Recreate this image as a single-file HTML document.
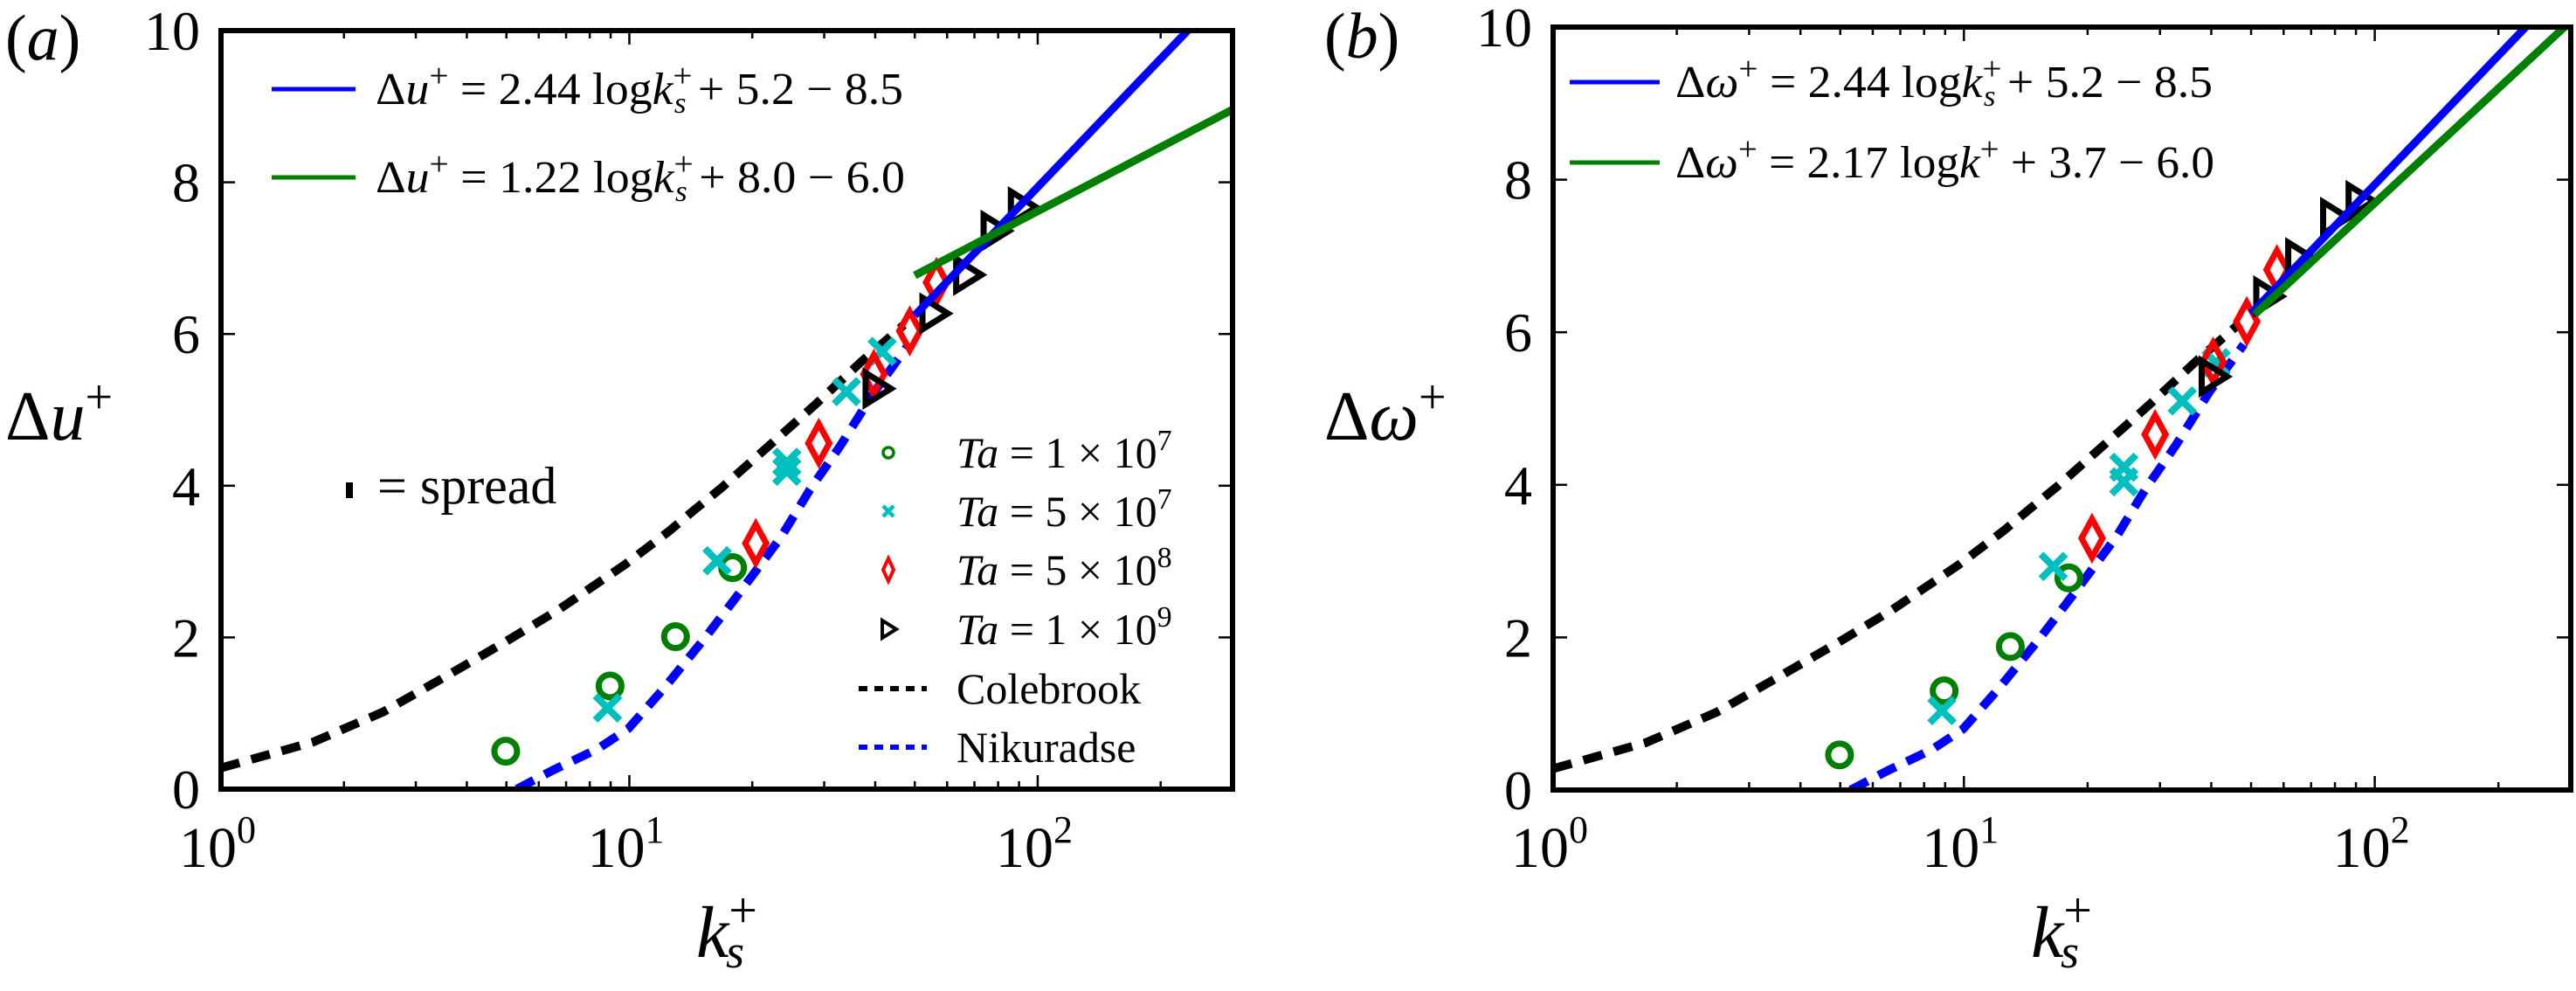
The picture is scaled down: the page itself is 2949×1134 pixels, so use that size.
<!DOCTYPE html>
<html><head><meta charset="utf-8"><style>
html,body{margin:0;padding:0;background:#fff;}
svg, svg text{font-family:"Liberation Serif","DejaVu Serif",serif;}
</style></head><body>
<svg id="fig" width="2949" height="1129" viewBox="0 0 2949 1129" xmlns="http://www.w3.org/2000/svg" font-family="Liberation Serif, DejaVu Serif, serif"></svg>
<script>
// ---- data ----
const colebrookK = [1, 1.68, 2.5, 3.56, 5, 6.68, 9.7, 12.5, 14.5, 16.8, 24.7, 28.4, 36.9, 47];
const colebrookY = [0.28, 0.62, 1.02, 1.49, 1.95, 2.36, 2.95, 3.40, 3.69, 3.97, 4.77, 5.06, 5.63, 6.12];
const nikK = [5.3, 6.5, 8.36, 9.95, 12.2, 15.3, 18.5, 23.5, 27.7, 32.8, 39.6, 48];
const nikY = [0.0, 0.25, 0.53, 0.80, 1.34, 1.99, 2.57, 3.32, 3.95, 4.52, 5.22, 5.84];
// panel a markers
const aCircK = [4.98, 8.97, 12.97, 17.9];
const aCircY = [0.50, 1.36, 2.01, 2.92];
const aCrossK = [8.84, 16.4, 24.3, 24.3, 34.0, 41.6];
const aCrossY = [1.07, 3.01, 4.31, 4.19, 5.24, 5.77];
const aDiaK = [20.4, 29.1, 39.7, 48.6, 56.5];
const aDiaY = [3.24, 4.56, 5.47, 6.04, 6.68];
const aTriK = [40.2, 55.4, 67.0, 78.2, 91.2];
const aTriY = [5.28, 6.27, 6.78, 7.36, 7.67];
// panel b markers
const bCircK = [4.98, 8.95, 12.97, 18.0];
const bCircY = [0.46, 1.30, 1.88, 2.78];
const bCrossK = [8.84, 16.5, 24.5, 24.5, 34.0, 41.1];
const bCrossY = [1.04, 2.93, 4.23, 4.04, 5.10, 5.60];
const bDiaK = [20.5, 29.2, 40.4, 48.8, 57.8];
const bDiaY = [3.30, 4.66, 5.61, 6.14, 6.82];
const bTriK = [40.2, 54.6, 65.3, 79.4, 91.6];
const bTriY = [5.42, 6.47, 6.97, 7.50, 7.72];
// fit lines: y = slope*ln(k) + c, drawn from kStart
const aBlueFit = [2.44, 5.2 - 8.5, 50];
const aGreenFit = [1.22, 8.0 - 6.0, 50];
const bBlueFit = [2.44, 5.2 - 8.5, 50];
const bGreenFit = [2.17, 3.7 - 6.0, 51];
const yTicks = [0, 2, 4, 6, 8, 10];
const xDecades = [0, 1, 2];

const NS = "http://www.w3.org/2000/svg";
const svg = document.getElementById('fig');
function el(tag, attrs, parent) {
  const e = document.createElementNS(NS, tag);
  for (const k in attrs) e.setAttribute(k, attrs[k]);
  (parent || svg).appendChild(e);
  return e;
}

function panel(P) {
  const g = el('g', {});
  
  
  const L = P.L, R = P.R, T = P.T, B = P.B;
  const lxmax = Math.log10(300);
  const X = k => L + (Math.log10(k) / lxmax) * (R - L);
  const Y = v => B - (v / 10) * (B - T);
  const defs = el('defs', {}, g);
  const cp = el('clipPath', {id: 'clip' + P.id}, defs);
  el('rect', {x: L, y: T, width: R - L, height: B - T}, cp);
  const plot = el('g', {'clip-path': 'url(#clip' + P.id + ')'}, g);
  
  

  const tk = el('g', {stroke: '#000', 'stroke-width': 2.5}, g);
  
  
  for (let d = 0; d <= 2; d++) {
    for (let m = 1; m <= 9; m++) {
      const k = m * Math.pow(10, d);
      if (k > 300) break;
      const x = X(k), len = m === 1 ? 16 : 9;
      el('line', {x1: x, x2: x, y1: B, y2: B - len}, tk);
      el('line', {x1: x, x2: x, y1: T, y2: T + len}, tk);
    }
  }
  yTicks.forEach(v => {
    el('line', {x1: L, x2: L + 16, y1: Y(v), y2: Y(v)}, tk);
    el('line', {x1: R, x2: R - 16, y1: Y(v), y2: Y(v)}, tk);
  });
  yTicks.forEach(v => {
    const t = el('text', {x: L - 24, y: Y(v) + 22, 'font-size': 64, 'text-anchor': 'end'}, g);
    t.textContent = v;
    
    
  });
  xDecades.forEach(d => {
    const t = el('text', {x: X(Math.pow(10, d)) - 4, y: 992, 'font-size': 66, 'text-anchor': 'middle'}, g);
    t.innerHTML = '10<tspan dy="-28" font-size="44">' + d + '</tspan>';
    
    
  });

  function curve(ks, ys, color, name) {
    const pts = ks.map((k, i) => X(k).toFixed(1) + ',' + Y(ys[i]).toFixed(1)).join(' ');
    const p = el('polyline', {points: pts, fill: 'none', stroke: color, 'stroke-width': 10, 'stroke-dasharray': '22 14', 'stroke-linejoin': 'round'}, plot);
    
    
  }
  curve(colebrookK, colebrookY, '#000', 'colebrook-curve');
  curve(nikK, nikY, '#0000ff', 'nikuradse-curve');

  function circ(ks, ys) {
    ks.forEach((k, i) => {
      const c = el('circle', {cx: X(k), cy: Y(ys[i]), r: 13, fill: 'none', stroke: '#007f00', 'stroke-width': 7}, plot);
      
      
    });
  }
  function cross(ks, ys) {
    ks.forEach((k, i) => {
      const x = X(k), y = Y(ys[i]), s = 14;
      const c = el('path', {d: `M${x-s},${y-s}L${x+s},${y+s}M${x-s},${y+s}L${x+s},${y-s}`, stroke: '#00bfbf', 'stroke-width': 8, fill: 'none'}, plot);
      
      
    });
  }
  function dia(ks, ys) {
    ks.forEach((k, i) => {
      const x = X(k), y = Y(ys[i]);
      const c = el('path', {d: `M${x},${y-22}L${x+12},${y}L${x},${y+22}L${x-12},${y}Z`, stroke: '#ff0000', 'stroke-width': 7, fill: 'none'}, plot);
      
      
    });
  }
  function tri(ks, ys) {
    ks.forEach((k, i) => {
      const x = X(k), y = Y(ys[i]);
      const c = el('path', {d: `M${x-12},${y-18}L${x+17},${y}L${x-12},${y+18}Z`, stroke: '#000', 'stroke-width': 7, fill: 'none'}, plot);
      
      
    });
  }
  circ(P.circK, P.circY); cross(P.crossK, P.crossY); dia(P.diaK, P.diaY); tri(P.triK, P.triY);

  function fit(f, color, name) {
    const k0 = f[2], k1 = 300;
    const p = el('line', {x1: X(k0), y1: Y(f[0] * Math.log(k0) + f[1]), x2: X(k1), y2: Y(f[0] * Math.log(k1) + f[1]), stroke: color, 'stroke-width': 9}, plot);
    
    
  }
  fit(P.blueFit, '#0000ff', 'fit-line-blue');
  fit(P.greenFit, '#007f00', 'fit-line-green');

  const fr = el('rect', {x: L, y: T, width: R - L, height: B - T, fill: 'none', stroke: '#000', 'stroke-width': 6}, g);
  
  

  P.fitLegend.forEach((lg, i) => {
    const ln = el('line', {x1: lg.x1, x2: lg.x2, y1: lg.y, y2: lg.y, stroke: lg.color, 'stroke-width': 5}, g);
    
    
    const t = el('text', {x: lg.tx, y: lg.y + 17, 'font-size': 52, textLength: lg.tw, lengthAdjust: 'spacingAndGlyphs'}, g);
    t.innerHTML = lg.html;
    
    
  });
  return {X, Y, g};
}

const sup = s => `<tspan dy="-20" font-size="38">${s}</tspan>`;
const ksHtml = `<tspan font-style="italic">k</tspan><tspan dy="-20" font-size="38">+</tspan><tspan dx="-20" dy="30" font-size="34" font-style="italic">s</tspan><tspan dy="-10"> </tspan>`;

panel({
  id: 'a', name: 'panel-a', L: 253, R: 1411, T: 35, B: 903,
  circK: aCircK, circY: aCircY, crossK: aCrossK, crossY: aCrossY, diaK: aDiaK, diaY: aDiaY, triK: aTriK, triY: aTriY,
  blueFit: aBlueFit, greenFit: aGreenFit,
  fitLegend: [
    {x1: 311, x2: 407, y: 102, color: '#0000ff', tx: 430, tw: 604,
     html: `Δ<tspan font-style="italic">u</tspan>${sup('+')}<tspan dy="20"> = 2.44 log</tspan>${ksHtml}+ 5.2 − 8.5`},
    {x1: 311, x2: 407, y: 203, color: '#007f00', tx: 430, tw: 606,
     html: `Δ<tspan font-style="italic">u</tspan>${sup('+')}<tspan dy="20"> = 1.22 log</tspan>${ksHtml}+ 8.0 − 6.0`}
  ]
});
panel({
  id: 'b', name: 'panel-b', L: 1778, R: 2943, T: 31, B: 904,
  circK: bCircK, circY: bCircY, crossK: bCrossK, crossY: bCrossY, diaK: bDiaK, diaY: bDiaY, triK: bTriK, triY: bTriY,
  blueFit: bBlueFit, greenFit: bGreenFit,
  fitLegend: [
    {x1: 1797, x2: 1900, y: 94, color: '#0000ff', tx: 1918, tw: 615,
     html: `Δ<tspan font-style="italic">ω</tspan>${sup('+')}<tspan dy="20"> = 2.44 log</tspan>${ksHtml}+ 5.2 − 8.5`},
    {x1: 1797, x2: 1900, y: 186, color: '#007f00', tx: 1918, tw: 617,
     html: `Δ<tspan font-style="italic">ω</tspan>${sup('+')}<tspan dy="20"> = 2.17 log</tspan><tspan font-style="italic">k</tspan>${sup('+')}<tspan dy="20"> + 3.7 − 6.0</tspan>`}
  ]
});

function txt(x, y, size, html, name, extra) {
  const t = el('text', Object.assign({x: x, y: y, 'font-size': size}, extra || {}));
  t.innerHTML = html;
  
  
  return t;
}
txt(6, 68, 74, '(<tspan font-style="italic">a</tspan>)', 'panel-a-label');
txt(1516, 66, 74, '(<tspan font-style="italic">b</tspan>)', 'panel-b-label');
txt(6, 503, 80, 'Δ<tspan font-style="italic">u</tspan><tspan dy="-30" font-size="56">+</tspan>', 'y-axis-title-a');
txt(1516, 503, 80, 'Δ<tspan font-style="italic">ω</tspan><tspan dy="-30" font-size="56">+</tspan>', 'y-axis-title-b');
[[797, 'x-axis-title-a'], [2325, 'x-axis-title-b']].forEach(([x, n]) => {
  txt(x, 1095, 84, '<tspan font-style="italic">k</tspan><tspan dy="-34" font-size="58">+</tspan><tspan dx="-36" dy="46" font-size="54" font-style="italic">s</tspan>', n);
});

const sp = el('rect', {x: 396, y: 552, width: 8, height: 18, fill: '#000'});


txt(432, 576, 60, '= spread', 'spread-label');

const legY = [518, 585, 652, 720, 788, 855];
const legLabels = ['<tspan font-style="italic">Ta</tspan> = 1 × 10<tspan dy="-20" font-size="34">7</tspan>',
  '<tspan font-style="italic">Ta</tspan> = 5 × 10<tspan dy="-20" font-size="34">7</tspan>',
  '<tspan font-style="italic">Ta</tspan> = 5 × 10<tspan dy="-20" font-size="34">8</tspan>',
  '<tspan font-style="italic">Ta</tspan> = 1 × 10<tspan dy="-20" font-size="34">9</tspan>',
  'Colebrook', 'Nikuradse'];
const lx = 1017;
const m0 = el('circle', {cx: lx, cy: legY[0], r: 6, fill: 'none', stroke: '#007f00', 'stroke-width': 3.5});
 
const m1 = el('path', {d: `M${lx-6},${legY[1]-6}L${lx+6},${legY[1]+6}M${lx-6},${legY[1]+6}L${lx+6},${legY[1]-6}`, stroke: '#00bfbf', 'stroke-width': 4.5});
 
const m2 = el('path', {d: `M${lx},${legY[2]-13}L${lx+6},${legY[2]}L${lx},${legY[2]+13}L${lx-6},${legY[2]}Z`, stroke: '#ff0000', 'stroke-width': 4, fill: 'none'});
 
const m3 = el('path', {d: `M${lx-7},${legY[3]-10}L${lx+9},${legY[3]}L${lx-7},${legY[3]+10}Z`, stroke: '#000', 'stroke-width': 4, fill: 'none'});
 
const m4 = el('line', {x1: 983, x2: 1061, y1: legY[4], y2: legY[4], stroke: '#000', 'stroke-width': 6, 'stroke-dasharray': '10 8'});
 
const m5 = el('line', {x1: 983, x2: 1061, y1: legY[5], y2: legY[5], stroke: '#0000ff', 'stroke-width': 6, 'stroke-dasharray': '10 8'});
 
legLabels.forEach((h, i) => {
  txt(1095, legY[i] + 17, 50, h, 'legend-entry');
});
</script>
</body></html>
